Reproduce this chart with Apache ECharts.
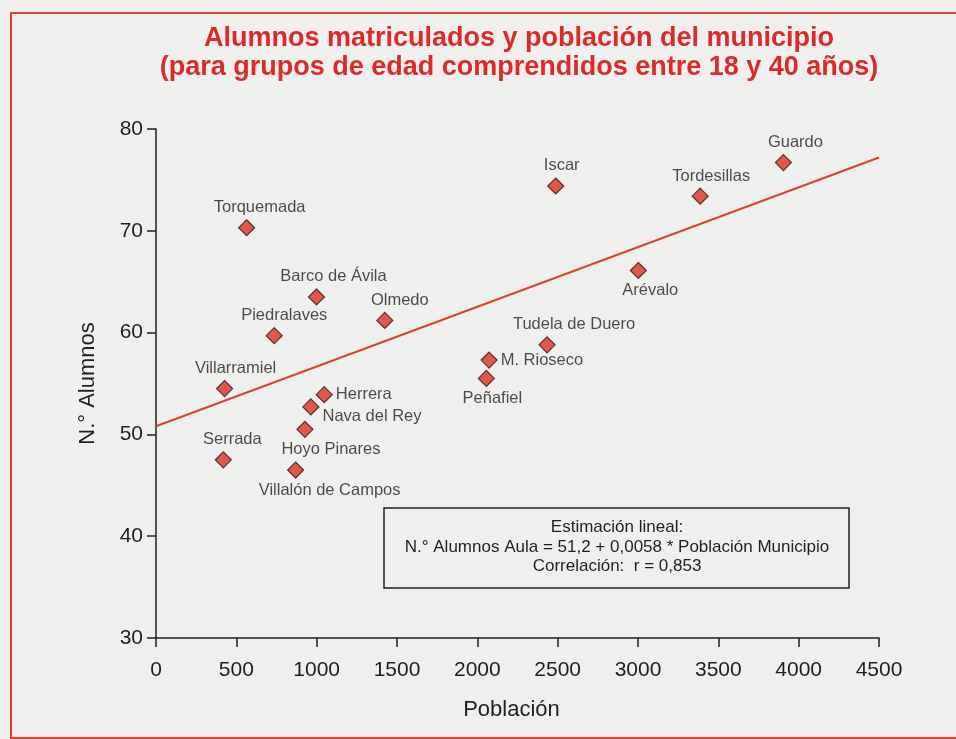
<!DOCTYPE html>
<html>
<head>
<meta charset="utf-8">
<script src="https://cdn.jsdelivr.net/npm/echarts@6/dist/echarts.min.js"></script>
<style>
html,body{margin:0;padding:0;background:#efefed;}
#chart{width:956px;height:739px;}
</style>
</head>
<body>
<div id="chart"></div>
<script>
// ---- Data ----
var municipios = ['Torquemada','Barco de Ávila','Olmedo','Piedralaves','Villarramiel','Herrera','Nava del Rey','Hoyo Pinares','Serrada','Villalón de Campos','Iscar','Guardo','Tordesillas','Arévalo','Tudela de Duero','M. Rioseco','Peñafiel'];
var poblacion  = [564, 999, 1424, 736, 427, 1047, 964, 927, 419, 869, 2488, 3905, 3387, 3002, 2434, 2073, 2056];
var alumnos    = [70.3, 63.5, 61.2, 59.7, 54.5, 53.9, 52.7, 50.5, 47.5, 46.5, 74.4, 76.7, 73.4, 66.1, 58.8, 57.3, 55.5];
var tendenciaX = [0, 4500];
var tendenciaY = [50.8, 77.2];
var xTicks = [0, 500, 1000, 1500, 2000, 2500, 3000, 3500, 4000, 4500];
var yTicks = [30, 40, 50, 60, 70, 80];
var tituloLineas = ['Alumnos matriculados y población del municipio', '(para grupos de edad comprendidos entre 18 y 40 años)'];
var recuadro = ['Estimación lineal:', 'N.° Alumnos Aula = 51,2 + 0,0058 * Población Municipio', 'Correlación:  r = 0,853'];

// ---- Label placement (layout only) ----
var labelPlace = {
  'Torquemada': {position:'top', offset:[13,0]},
  'Barco de Ávila': {position:'top', offset:[17,0]},
  'Olmedo': {position:'top', offset:[15,0]},
  'Piedralaves': {position:'top', offset:[10,0]},
  'Villarramiel': {position:'top', offset:[11,0]},
  'Herrera': {position:'right', offset:[0,0]},
  'Nava del Rey': {position:'right', offset:[0,10]},
  'Hoyo Pinares': {position:'bottom', offset:[26,0]},
  'Serrada': {position:'top', offset:[9,0]},
  'Villalón de Campos': {position:'bottom', offset:[34,0]},
  'Iscar': {position:'top', offset:[6,0]},
  'Guardo': {position:'top', offset:[12,0]},
  'Tordesillas': {position:'top', offset:[11,0]},
  'Arévalo': {position:'bottom', offset:[12,0]},
  'Tudela de Duero': {position:'top', offset:[27,0]},
  'M. Rioseco': {position:'right', offset:[0,0]},
  'Peñafiel': {position:'bottom', offset:[6,0]}
};

var FONT = '"Liberation Sans", Arial, Helvetica, sans-serif';
var RED = '#da2b2a';
var INK = '#1f1f1f';

var points = municipios.map(function(n, i){
  var p = labelPlace[n];
  return {name: n, value: [poblacion[i], alumnos[i]],
          label: {position: p.position, offset: p.offset}};
});
var trend = tendenciaX.map(function(x, i){ return [x, tendenciaY[i]]; });

var chart = echarts.init(document.getElementById('chart'), null, {renderer:'canvas'});
chart.setOption({
  backgroundColor: '#efefed',
  animation: false,
  grid: {left:156, top:129, right:77, bottom:101, containLabel:false},
  xAxis: {
    type:'value', min: xTicks[0], max: xTicks[xTicks.length-1], interval: xTicks[1]-xTicks[0],
    name:'Población', nameLocation:'middle', nameGap:61,
    nameTextStyle:{fontFamily:FONT, fontSize:22, color:INK, padding:[0,12,0,0]},
    axisLine:{show:true, lineStyle:{color:INK, width:1.5}},
    axisTick:{show:true, inside:false, length:9, lineStyle:{color:INK, width:1.5}},
    axisLabel:{fontFamily:FONT, fontSize:21, color:INK, margin:22, formatter:function(v){return String(v);}},
    splitLine:{show:false}
  },
  yAxis: {
    type:'value', min: yTicks[0], max: yTicks[yTicks.length-1], interval: yTicks[1]-yTicks[0],
    name:'N.° Alumnos', nameLocation:'middle', nameGap:57, nameRotate:90,
    nameTextStyle:{fontFamily:FONT, fontSize:22, color:INK},
    axisLine:{show:true, lineStyle:{color:INK, width:1.5}},
    axisTick:{show:true, inside:false, length:9, lineStyle:{color:INK, width:1.5}},
    axisLabel:{fontFamily:FONT, fontSize:21, color:INK, margin:13, formatter:function(v){return String(v);}},
    splitLine:{show:false}
  },
  series: [
    {
      type:'line', data: trend, symbol:'none', silent:true, z:2,
      lineStyle:{color:'#e0412f', width:2}
    },
    {
      type:'scatter', data: points, symbol:'diamond', symbolSize:16, z:3,
      itemStyle:{color:'#dc3224', borderColor:'#3a1510', borderWidth:1.2},
      label:{show:true, formatter:'{b}', fontFamily:FONT, fontSize:16.5, color:INK, distance:3}
    }
  ],
  graphic: [
    {type:'rect', shape:{x:11, y:13, width:960, height:725}, style:{fill:'none', stroke:'#e2413a', lineWidth:2}, silent:true},
    {type:'text', x:519, y:39, style:{text:tituloLineas[0], fontFamily:FONT, fontSize:27, fontWeight:'bold', fill:RED, align:'center', verticalAlign:'middle'}},
    {type:'text', x:519, y:68, style:{text:tituloLineas[1], fontFamily:FONT, fontSize:27, fontWeight:'bold', fill:RED, align:'center', verticalAlign:'middle'}},
    {type:'rect', shape:{x:384, y:508, width:465, height:80}, style:{fill:'none', stroke:INK, lineWidth:1.5}, silent:true},
    {type:'text', x:617, y:527, style:{text:recuadro[0], fontFamily:FONT, fontSize:17, fill:INK, align:'center', verticalAlign:'middle'}},
    {type:'text', x:617, y:547, style:{text:recuadro[1], fontFamily:FONT, fontSize:17, fill:INK, align:'center', verticalAlign:'middle'}},
    {type:'text', x:617, y:566, style:{text:recuadro[2], fontFamily:FONT, fontSize:17, fill:INK, align:'center', verticalAlign:'middle'}}
  ]
});
</script>
</body>
</html>
